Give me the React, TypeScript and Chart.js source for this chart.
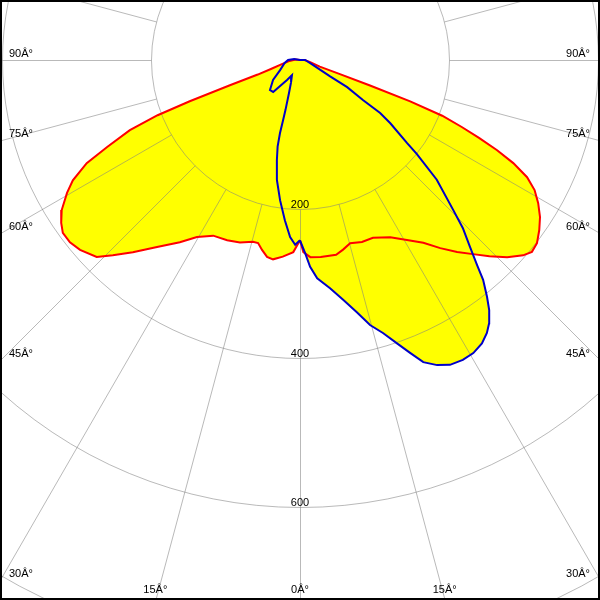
import React, { useEffect, useRef } from "react";
import { Chart, registerables } from "chart.js";

Chart.register(...registerables);

// Photometric intensities (cd/klm), per C-plane half.
// Red curve: C0 (right half) / C180 (left half)
const C0_GAMMA = [0, 1, 3, 6, 10.5, 12.8, 15.3, 18.8, 22.3, 27, 30.7, 34, 36.7, 39.3, 41.7, 44, 46.4, 48.8, 50.4, 52.3, 54.6, 56.8, 59, 61, 62.7, 64.2, 65.4, 66.5, 67.5, 68.6, 69.4, 70, 70.5, 71.5, 78, 90, 180];
const C0_VALUES = [242, 258, 265, 266, 266, 261, 255, 258, 258, 267, 281, 296, 315, 333, 349, 366, 384, 398, 404, 402, 394, 385, 373, 360, 343, 318, 291, 262, 235, 205, 158, 100, 55, 28, 14, 6, 0];

const C180_GAMMA = [0, 2, 5, 7.7, 9.5, 11.3, 12.9, 14.5, 18.2, 22, 26.3, 30.2, 33.4, 37.4, 41, 43.8, 45.9, 49.2, 51.6, 53.9, 55.7, 57.8, 60.3, 62.1, 64.2, 65.7, 67.6, 68.8, 69.5, 70.2, 71, 73, 77, 85, 95, 180];
const C180_VALUES = [242, 258, 265, 270, 268, 260, 252, 252, 258, 261, 263, 275, 293, 316, 342, 363, 380, 390, 394, 394, 388, 378, 360, 345, 318, 284, 247, 205, 158, 100, 60, 40, 25, 14, 6, 0];

// Blue curve: C90 (right half) / C270 (left half)
const C90_GAMMA = [0, 1.5, 2.8, 4.5, 7.5, 10.2, 12.7, 14.8, 16.9, 18.9, 20.6, 22.2, 24.2, 26.2, 28.5, 30.6, 32.7, 34.4, 35.7, 37.1, 38.3, 39.8, 40.8, 42.3, 44.1, 45.6, 48.8, 51.2, 52.2, 55, 56.5, 57.6, 60.1, 61.5, 69, 90, 180];
const C90_VALUES = [242, 259, 278, 294, 309, 327, 347, 368, 383, 402, 420, 438, 449, 456, 458, 457, 452, 444, 435, 421, 405, 384, 364, 339, 314, 288, 244, 201, 182, 148, 129, 100, 73, 46, 19, 7, 0];

const C270_GAMMA = [0, 1.5, 3.2, 5.4, 8.1, 10.9, 13, 14.5, 15.3, 15.7, 16.2, 18.4, 22, 28, 33, 40, 45, 53.5, 63, 79, 90, 100, 180];
const C270_VALUES = [242, 248, 238, 216, 190, 164, 138, 120, 102, 84, 70, 47, 32, 23, 32, 56, 57, 45, 30, 21, 16, 8, 0];

// Grid / tick labels
const RING_VALUES = [200, 400, 600, 800];
const RING_LABELS = ["200", "400", "600"];
const SPOKE_STEP_DEG = 15;
const SIDE_ANGLES = [90, 75, 60, 45, 30];
const SIDE_LABELS = ["90Â°", "75Â°", "60Â°", "45Â°", "30Â°"];
const BOTTOM_ANGLES = [-15, 0, 15];
const BOTTOM_LABELS = ["15Â°", "0Â°", "15Â°"];

const X_MIN = -402.68;
const X_MAX = 402.68;
const Y_MIN = -724.83;
const Y_MAX = 80.54;

const RAD = Math.PI / 180;

// polar (gamma from nadir, intensity) -> cartesian data coordinates
function toXY(gammas: number[], values: number[], side: number) {
  return gammas.map((g, i) => ({
    x: side * values[i] * Math.sin(g * RAD),
    y: -values[i] * Math.cos(g * RAD),
  }));
}

function closedCurve(rightG: number[], rightV: number[], leftG: number[], leftV: number[]) {
  const right = toXY(rightG, rightV, 1);
  const left = toXY(leftG, leftV, -1).reverse();
  return right.concat(left);
}

const polarPlugin = {
  id: "polarGrid",
  beforeDatasetsDraw(chart: any) {
    const { ctx, scales } = chart;
    const xs = scales.x;
    const ys = scales.y;
    const cx = xs.getPixelForValue(0);
    const cy = ys.getPixelForValue(0);
    ctx.save();
    // yellow filled area (union of both curves)
    ctx.fillStyle = "#ffff00";
    chart.data.datasets.forEach((_ds: any, i: number) => {
      const pts = chart.getDatasetMeta(i).data;
      ctx.beginPath();
      pts.forEach((p: any, j: number) => (j ? ctx.lineTo(p.x, p.y) : ctx.moveTo(p.x, p.y)));
      ctx.closePath();
      ctx.fill();
    });
    // grid
    const gx = cx + 0.5;
    const gy = cy + 0.5;
    ctx.strokeStyle = "rgba(128,128,128,0.55)";
    ctx.lineWidth = 1;
    RING_VALUES.forEach((v) => {
      const r = xs.getPixelForValue(v) - cx;
      ctx.beginPath();
      ctx.arc(gx, gy, r, 0, Math.PI * 2);
      ctx.stroke();
    });
    const rIn = xs.getPixelForValue(RING_VALUES[0]) - cx;
    const rOut = xs.getPixelForValue(2000) - cx;
    for (let a = 0; a < 360; a += SPOKE_STEP_DEG) {
      const s = Math.sin(a * RAD);
      const c = Math.cos(a * RAD);
      ctx.beginPath();
      ctx.moveTo(gx + rIn * s, gy + rIn * c);
      ctx.lineTo(gx + rOut * s, gy + rOut * c);
      ctx.stroke();
    }
    ctx.restore();
  },
  afterDatasetsDraw(chart: any) {
    const { ctx, scales, chartArea } = chart;
    const xs = scales.x;
    const ys = scales.y;
    const cx = xs.getPixelForValue(0);
    const cy = ys.getPixelForValue(0);
    ctx.save();
    ctx.font = '11px "Liberation Sans", Arial, sans-serif';
    ctx.fillStyle = "#000";
    ctx.textBaseline = "alphabetic";
    ctx.textAlign = "center";
    RING_LABELS.forEach((t, i) => {
      const r = xs.getPixelForValue(RING_VALUES[i]) - cx;
      ctx.fillText(t, cx, cy + r - 1);
    });
    SIDE_ANGLES.forEach((g, i) => {
      const yEdge = cy + (cx - chartArea.left) / Math.tan(g * RAD);
      ctx.textAlign = "left";
      ctx.fillText(SIDE_LABELS[i], chartArea.left + 9, yEdge - 3);
      ctx.textAlign = "right";
      ctx.fillText(SIDE_LABELS[i], chartArea.right - 10, yEdge - 3);
    });
    ctx.textAlign = "center";
    BOTTOM_ANGLES.forEach((g, i) => {
      const xEdge = cx + (chartArea.bottom - cy) * Math.tan(g * RAD);
      ctx.fillText(BOTTOM_LABELS[i], xEdge, chartArea.bottom - 7);
    });
    ctx.restore();
  },
  afterDraw(chart: any) {
    const { ctx, width, height } = chart;
    ctx.save();
    ctx.strokeStyle = "#000";
    ctx.lineWidth = 2;
    ctx.strokeRect(1, 1, width - 2, height - 2);
    ctx.restore();
  },
};

export default function App() {
  const ref = useRef<HTMLCanvasElement>(null);
  useEffect(() => {
    document.body.style.margin = "0";
    const canvas = ref.current;
    if (!canvas) return;
    const blue = closedCurve(C90_GAMMA, C90_VALUES, C270_GAMMA, C270_VALUES);
    const red = closedCurve(C0_GAMMA, C0_VALUES, C180_GAMMA, C180_VALUES);
    const chart = new Chart(canvas, {
      type: "line",
      data: {
        datasets: [
          { label: "C90-C270", data: blue, borderColor: "#0000c8", borderWidth: 2, fill: false, pointRadius: 0, tension: 0 },
          { label: "C0-C180", data: red, borderColor: "#ff0000", borderWidth: 2, fill: false, pointRadius: 0, tension: 0 },
        ],
      },
      options: {
        animation: false,
        responsive: false,
        devicePixelRatio: 1,
        layout: { padding: 0 },
        scales: {
          x: { type: "linear", min: X_MIN, max: X_MAX, display: false },
          y: { type: "linear", min: Y_MIN, max: Y_MAX, display: false },
        },
        plugins: { legend: { display: false }, tooltip: { enabled: false } },
      },
      plugins: [polarPlugin],
    } as any);
    return () => chart.destroy();
  }, []);
  return (
    <div style={{ width: 600, height: 600 }}>
      <canvas ref={ref} width={600} height={600} style={{ display: "block" }} />
    </div>
  );
}
